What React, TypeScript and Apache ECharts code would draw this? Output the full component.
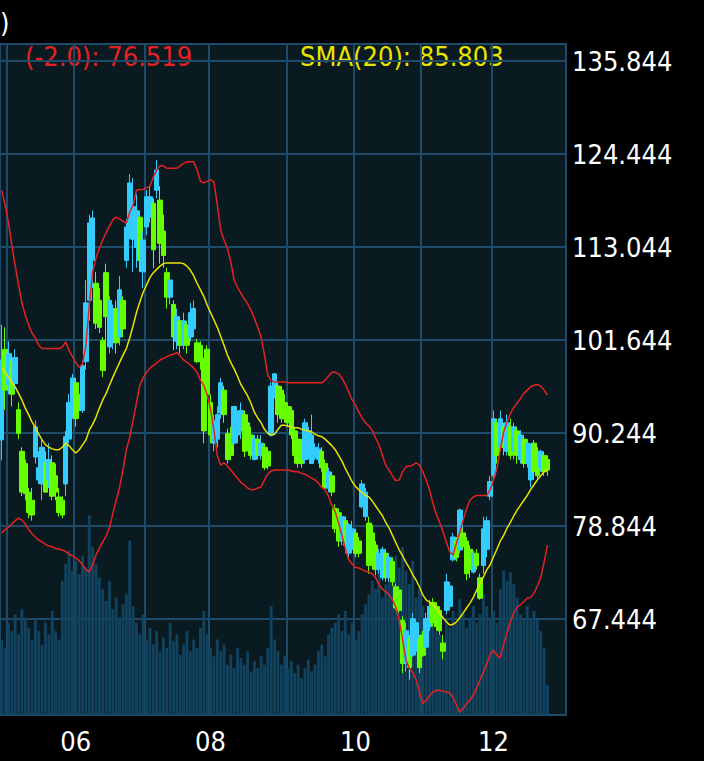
import { useEffect, useRef } from 'react';
import * as echarts from 'echarts';

const FONT = '"DejaVu Sans Condensed", "Liberation Sans Narrow", sans-serif';

// trading days per month (the chart starts two sessions before May)
const MONTHS = ['04', '05', '06', '07', '08', '09', '10', '11', '12'];
const TRADING_DAYS = [2, 20, 21, 19, 23, 20, 20, 21, 22];

const Y_TICKS = [67.444, 78.844, 90.244, 101.644, 113.044, 124.444, 135.844];

// [open, close, low, high]
const CANDLES = [
  [89.4, 99.2, 86.9, 103.5], [100.5, 95.5, 93.1, 103.2], [96.2, 100.0, 95.0, 101.5], [99.0, 95.0, 93.5, 100.0],
  [96.3, 99.5, 95.5, 100.5], [93.1, 90.2, 89.5, 94.0], [88.0, 83.0, 82.5, 88.5], [86.5, 82.8, 82.0, 87.0],
  [83.0, 80.5, 79.8, 83.5], [82.0, 80.2, 79.5, 83.5], [87.3, 91.0, 86.5, 91.8], [84.5, 86.0, 84.0, 88.0],
  [84.0, 88.5, 82.0, 89.4], [86.6, 83.0, 82.9, 88.0], [84.5, 87.0, 83.5, 89.0], [86.6, 82.5, 82.0, 87.5],
  [85.0, 83.0, 82.0, 86.5], [82.4, 80.5, 80.0, 83.5], [82.0, 80.2, 79.8, 82.5], [84.0, 89.8, 82.5, 90.5],
  [89.5, 94.0, 89.0, 95.0], [93.0, 97.0, 92.0, 97.5], [96.4, 92.0, 91.0, 97.0], [95.0, 93.0, 92.5, 96.0],
  [93.0, 98.5, 92.7, 99.2], [99.0, 106.2, 98.0, 109.0], [106.5, 116.0, 104.0, 117.0], [111.4, 116.6, 108.0, 117.5],
  [108.6, 103.7, 103.0, 110.0], [106.5, 103.2, 102.5, 108.0], [101.6, 97.9, 97.1, 102.0], [109.9, 104.5, 101.0, 111.0],
  [100.8, 106.5, 100.0, 107.0], [101.6, 105.3, 100.5, 106.0], [105.5, 101.3, 100.0, 106.5], [102.0, 107.8, 101.0, 109.5],
  [106.5, 103.0, 102.0, 107.0], [111.4, 115.5, 110.5, 116.5], [115.1, 120.9, 114.0, 122.0], [114.0, 118.0, 110.0, 121.5],
  [113.0, 117.5, 110.5, 119.5], [116.7, 111.4, 110.0, 117.5], [110.0, 113.9, 108.0, 115.0], [115.5, 119.2, 114.5, 120.0],
  [116.7, 119.2, 116.0, 120.5], [118.4, 112.7, 110.5, 119.0], [120.0, 122.5, 119.0, 123.7], [118.8, 113.5, 111.0, 120.5],
  [115.0, 112.0, 110.5, 117.0], [109.9, 106.9, 105.5, 110.5], [106.9, 109.0, 106.0, 110.0], [106.0, 102.0, 100.4, 106.5],
  [101.5, 104.5, 100.5, 105.5], [104.0, 101.0, 100.0, 104.5], [101.0, 104.0, 100.5, 105.0], [103.5, 101.0, 100.0, 104.0],
  [102.0, 105.0, 101.5, 106.2], [103.0, 105.5, 102.0, 106.5], [101.3, 99.0, 98.8, 101.8], [101.0, 99.0, 98.0, 101.5],
  [99.2, 90.5, 89.0, 99.5], [100.5, 95.0, 94.3, 101.0], [94.0, 90.0, 89.0, 95.0], [89.0, 91.8, 88.0, 92.5],
  [89.5, 92.5, 88.5, 93.5], [92.7, 96.4, 92.0, 97.0], [95.5, 92.5, 91.5, 96.0], [90.2, 87.0, 86.5, 90.8],
  [90.0, 87.5, 86.9, 91.0], [89.0, 93.5, 88.5, 93.5], [90.0, 92.5, 89.0, 93.0], [90.5, 93.0, 89.5, 94.0],
  [92.5, 88.0, 87.3, 93.0], [91.5, 89.0, 88.0, 92.5], [90.0, 87.5, 87.0, 91.0], [87.0, 89.5, 86.9, 90.0],
  [89.5, 87.5, 87.0, 90.0], [87.5, 89.0, 87.0, 90.0], [88.5, 86.0, 85.7, 89.0], [88.0, 86.2, 85.8, 88.5],
  [90.0, 96.0, 89.8, 96.5], [95.0, 97.5, 94.5, 97.6], [96.0, 92.5, 91.5, 96.4], [95.5, 92.0, 91.5, 96.0],
  [94.0, 92.0, 91.5, 95.0], [93.5, 91.5, 91.0, 94.0], [93.0, 90.0, 89.5, 93.5], [90.5, 87.5, 86.5, 91.0],
  [89.5, 86.5, 86.0, 90.0], [88.5, 86.5, 86.0, 89.5], [87.0, 91.5, 86.5, 92.0], [88.0, 90.5, 87.0, 91.0],
  [86.5, 90.0, 86.5, 92.5], [87.2, 88.5, 86.9, 89.0], [87.0, 88.3, 86.5, 89.0], [88.0, 86.0, 85.5, 88.5],
  [86.5, 83.5, 83.3, 87.0], [83.5, 85.5, 83.0, 86.0], [85.0, 83.0, 82.5, 85.5], [81.0, 78.5, 78.0, 81.5],
  [80.5, 77.0, 76.3, 81.0], [77.0, 80.0, 76.5, 80.5], [79.5, 76.5, 75.5, 80.0], [75.5, 79.0, 75.0, 79.2],
  [76.0, 78.5, 75.5, 79.5], [78.0, 75.5, 75.0, 78.5], [77.0, 75.5, 75.0, 77.5], [81.2, 84.0, 81.0, 84.5],
  [80.0, 83.0, 79.5, 83.5], [79.2, 74.0, 73.0, 80.0], [78.0, 74.5, 73.5, 79.0], [76.5, 73.5, 72.8, 77.0],
  [73.5, 75.5, 73.0, 76.0], [72.5, 76.0, 72.2, 76.3], [75.5, 72.5, 72.0, 76.0], [72.5, 75.0, 72.0, 75.5],
  [74.5, 72.0, 71.5, 75.0], [71.4, 68.8, 68.5, 71.8], [71.0, 68.5, 68.2, 71.0], [67.3, 62.0, 60.8, 67.8],
  [62.0, 66.0, 61.0, 67.0], [65.0, 61.5, 60.0, 65.5], [63.0, 67.5, 62.8, 68.2], [63.5, 67.0, 63.0, 67.5],
  [65.0, 61.5, 60.8, 65.5], [65.5, 63.0, 62.8, 66.0], [64.0, 67.5, 63.3, 68.2], [66.5, 69.0, 66.0, 69.8],
  [69.5, 67.0, 66.5, 70.0], [69.0, 66.5, 66.0, 69.5], [68.5, 66.0, 65.5, 69.0], [64.5, 63.5, 62.5, 65.5],
  [68.5, 72.0, 68.0, 73.0], [69.0, 71.5, 68.5, 72.0], [74.7, 77.5, 74.5, 78.0], [77.0, 75.0, 74.5, 77.5],
  [75.9, 80.8, 75.5, 81.0], [78.0, 76.3, 76.0, 78.5], [77.0, 73.0, 72.2, 77.5], [76.0, 73.5, 72.5, 76.5],
  [73.2, 75.5, 73.0, 75.8], [75.5, 74.0, 73.5, 76.0], [72.5, 70.0, 69.8, 73.0], [74.0, 78.5, 73.0, 80.0],
  [76.0, 79.5, 75.0, 80.0], [82.5, 84.3, 82.0, 85.0], [85.0, 92.0, 84.5, 93.0], [91.5, 87.5, 86.5, 92.0],
  [88.5, 92.0, 88.0, 93.0], [91.0, 88.5, 87.5, 91.5], [88.0, 91.5, 87.5, 92.5], [91.0, 87.5, 87.0, 92.0],
  [88.0, 91.0, 87.0, 91.5], [90.5, 87.5, 86.5, 91.0], [87.0, 90.0, 86.5, 90.6], [89.5, 86.5, 86.0, 90.0],
  [86.5, 89.0, 86.0, 89.5], [84.5, 88.0, 83.6, 89.0], [89.0, 85.5, 84.5, 89.4], [88.0, 85.0, 84.5, 88.5],
  [86.0, 88.0, 85.5, 88.2], [87.5, 85.5, 85.0, 88.0], [87.0, 85.7, 85.0, 87.5],
];

const UPPER = [
  120.0, 118.2, 116.1, 113.3, 110.8, 108.4, 106.2, 104.7, 103.5, 102.5,
  101.9, 101.0, 100.6, 100.6, 100.6, 100.6, 100.6, 100.6, 100.8, 101.4,
  100.4, 99.6, 98.9, 98.3, 98.7, 101.0, 105.9, 110.0, 111.7, 112.9,
  113.9, 114.8, 115.6, 116.4, 116.7, 116.5, 116.2, 116.0, 117.3, 118.2,
  120.0, 120.1, 120.1, 120.3, 120.5, 121.6, 122.5, 123.0, 123.0, 122.7,
  122.7, 122.7, 122.7, 123.0, 123.3, 123.5, 123.5, 123.5, 122.5, 121.1,
  120.9, 121.1, 121.3, 121.0, 118.2, 115.1, 113.9, 112.9, 111.2, 109.0,
  108.1, 107.4, 106.7, 106.1, 105.3, 104.3, 103.2, 102.0, 99.8, 97.3,
  96.7, 96.5, 96.5, 96.5, 96.5, 96.4, 96.4, 96.4, 96.4, 96.4,
  96.4, 96.4, 96.4, 96.4, 96.4, 96.4, 96.7, 97.2, 97.7, 97.7,
  97.5, 97.0, 96.2, 95.3, 94.3, 93.7, 92.8, 92.1, 91.5, 91.1,
  90.6, 89.6, 88.8, 87.5, 86.3, 85.7, 85.0, 84.4, 84.5, 85.5,
  86.1, 86.2, 86.3, 86.6, 86.3, 85.5, 84.5, 83.3, 81.6, 80.3,
  79.3, 78.1, 76.9, 75.7, 75.3, 76.8, 78.1, 79.6, 81.0, 82.0,
  82.4, 82.6, 82.6, 82.6, 82.6, 83.3, 84.5, 85.9, 88.2, 90.4,
  91.6, 92.6, 93.4, 93.9, 94.5, 95.1, 95.5, 95.9, 96.1, 96.2,
  96.0, 95.5, 94.9,
];

const LOWER = [
  78.0, 78.4, 78.7, 79.1, 79.5, 79.8, 79.6, 79.1, 78.4, 77.9,
  77.5, 77.1, 76.9, 76.6, 76.4, 76.3, 76.1, 76.0, 75.9, 75.7,
  75.4, 75.2, 74.9, 74.6, 74.1, 73.5, 73.2, 74.1, 75.3, 76.1,
  76.9, 77.6, 78.7, 80.4, 82.0, 83.6, 85.7, 88.2, 89.7, 91.8,
  93.9, 96.1, 97.0, 97.7, 98.2, 98.5, 98.8, 99.2, 99.4, 99.6,
  99.8, 99.9, 100.1, 99.7, 99.2, 98.9, 98.6, 98.2, 97.7, 96.7,
  96.1, 94.9, 93.1, 90.6, 87.5, 86.3, 86.6, 86.2, 85.7, 85.2,
  84.7, 84.2, 83.9, 83.5, 83.3, 83.3, 83.5, 83.6, 84.5, 85.2,
  85.6, 85.7, 85.7, 85.7, 85.7, 85.7, 85.6, 85.5, 85.5, 85.3,
  85.2, 85.0, 84.7, 84.5, 84.1, 83.6, 83.3, 82.5, 81.4, 80.6,
  79.2, 77.7, 76.1, 74.7, 74.2, 73.8, 73.7, 73.5, 73.3, 73.2,
  73.0, 72.5, 71.7, 71.1, 70.8, 70.4, 69.8, 68.9, 67.3, 64.9,
  62.4, 61.4, 60.9, 60.0, 58.5, 57.1, 57.5, 58.0, 58.5, 58.7,
  58.7, 58.6, 58.5, 58.4, 57.8, 56.9, 56.0, 56.5, 57.1, 57.5,
  58.1, 59.0, 60.0, 60.9, 62.0, 63.1, 63.6, 63.0, 62.7, 64.3,
  65.8, 67.1, 68.2, 68.9, 69.2, 69.6, 70.0, 70.1, 70.6, 71.5,
  72.5, 74.4, 76.5,
];

const SMA = [
  98.3, 97.7, 97.1, 96.5, 95.9, 95.1, 94.3, 93.3, 92.5, 91.6,
  90.9, 90.1, 89.4, 88.8, 88.5, 88.3, 88.2, 88.2, 88.5, 89.0,
  88.7, 88.2, 87.8, 88.2, 88.8, 89.4, 90.6, 91.3, 92.2, 93.3,
  94.3, 95.1, 96.1, 97.1, 98.0, 98.9, 99.8, 100.6, 101.9, 103.4,
  105.0, 106.3, 107.5, 108.4, 109.3, 109.9, 110.3, 110.7, 111.0, 111.1,
  111.1, 111.1, 111.1, 111.1, 111.0, 110.7, 110.2, 109.5, 108.6, 107.8,
  107.0, 105.9, 105.0, 104.1, 103.2, 102.1, 101.0, 99.8, 98.9, 98.1,
  97.2, 96.2, 95.5, 94.8, 93.9, 92.8, 92.1, 91.5, 90.7, 90.2,
  90.0, 90.1, 90.7, 91.2, 91.2, 91.1, 91.0, 90.9, 90.9, 90.7,
  90.6, 90.5, 90.4, 90.1, 89.9, 89.8, 89.5, 89.1, 88.7, 88.2,
  87.5, 86.8, 85.9, 85.1, 84.3, 83.7, 83.3, 82.9, 82.6, 82.4,
  81.9, 81.3, 80.7, 80.1, 79.3, 78.6, 77.7, 76.8, 75.9, 75.2,
  74.4, 73.7, 72.9, 72.2, 71.4, 70.4, 69.8, 69.5, 69.2, 68.8,
  68.2, 67.6, 67.1, 66.7, 66.8, 67.1, 67.6, 68.2, 68.8, 69.4,
  70.1, 71.0, 71.8, 72.6, 73.5, 74.1, 75.1, 76.0, 77.0, 77.7,
  78.6, 79.3, 80.1, 80.8, 81.4, 82.0, 82.6, 83.3, 83.9, 84.5,
  85.0, 85.5, 85.8,
];

const VOLUME = [
  45, 40, 55, 50, 60, 48, 63, 58, 52, 45, 57, 50, 42,
  55, 48, 62, 50, 45,
  80, 90, 98, 86, 92, 84, 95, 88, 119, 100, 90, 82,
  75, 68, 80, 63, 70, 58, 66, 72, 104, 65,
  55, 48, 60, 45, 52, 42, 50, 38, 46, 40, 55, 44, 48, 36, 42, 50, 38, 45, 40, 52, 62,
  48, 40, 35, 45, 38, 42, 30, 36, 28, 40, 34, 30, 38, 26, 32, 28, 35, 30, 40,
  65, 45, 38, 30, 35, 28, 32, 25, 30, 22, 28, 33, 26, 30, 38, 42, 35, 48, 52,
  55, 60, 50, 62, 48, 55, 45, 50,
  60, 66, 72, 80, 75, 85, 70, 78, 90, 82, 95, 88, 100, 86, 78, 92, 70, 75, 65, 58, 62, 55, 50, 48, 45, 58, 52,
  62, 55, 69, 60, 52, 58, 65, 55, 60, 72, 65, 58, 62, 55, 75, 86, 80,
  85, 78, 70, 60, 57, 65, 58, 62, 57, 50, 40, 18,
];

const BB_LABEL = '(-2.0): 76.519';
const SMA_LABEL = 'SMA(20): 85.803';

const GRID_LINE = '#1d4b69';
const RED = '#e52222';
const YELLOW = '#e8e400';

export default function App() {
  const chartRef = useRef<HTMLDivElement>(null);

  useEffect(() => {
    if (!chartRef.current) return;

    // 类目：每个交易日一个，记录每月首日
    const categories: string[] = [];
    const monthStart = new Set<number>();
    const labelIdx = new Set<number>();
    MONTHS.forEach((m, k) => {
      for (let d = 0; d < TRADING_DAYS[k]; d++) {
        if (d === 0 && k > 0) {
          monthStart.add(categories.length);
          if (Number(m) % 2 === 0) labelIdx.add(categories.length);
        }
        categories.push(`${m}-${String(d + 1).padStart(2, '0')}`);
      }
    });

    const chart = echarts.init(chartRef.current, undefined, { renderer: 'svg' });

    const option = {
      animation: false,
      backgroundColor: '#000',
      grid: {
        left: -2, right: 138, top: 44, bottom: 46,
        show: true, backgroundColor: '#0a1a21', borderColor: GRID_LINE, borderWidth: 2,
      },
      xAxis: {
        type: 'category' as const,
        data: categories,
        boundaryGap: true,
        axisLine: { show: false },
        axisTick: { show: false },
        axisLabel: {
          interval: (i: number) => labelIdx.has(i),
          formatter: (v: string) => v.slice(0, 2),
          color: '#fff', fontFamily: FONT, fontSize: 27, margin: 13,
        },
        splitLine: {
          show: true,
          interval: (i: number) => monthStart.has(i),
          lineStyle: { color: GRID_LINE, width: 2 },
        },
      },
      yAxis: [
        {
          type: 'value' as const,
          position: 'right' as const,
          min: 55.68, max: 137.93,
          axisLine: { show: false },
          axisTick: { show: false, customValues: Y_TICKS },
          axisLabel: {
            customValues: Y_TICKS,
            formatter: (v: number) => v.toFixed(3),
            color: '#fff', fontFamily: FONT, fontSize: 27, margin: 6,
          },
          splitLine: { show: true, lineStyle: { color: GRID_LINE, width: 2 } },
        },
        { type: 'value' as const, min: 0, max: 400, show: false, splitLine: { show: false } },
      ],
      series: [
        {
          type: 'bar', yAxisIndex: 1, data: VOLUME, barWidth: '85%', z: 1, silent: true,
          itemStyle: { color: '#11435f' },
        },
        {
          type: 'candlestick', data: CANDLES, barWidth: 5, z: 2,
          itemStyle: {
            color: '#33ccff', color0: '#66ff00',
            borderColor: '#33ccff', borderColor0: '#66ff00', borderWidth: 1,
          },
        },
        { type: 'line', data: UPPER, symbol: 'none', z: 3, lineStyle: { color: RED, width: 1.5 } },
        { type: 'line', data: LOWER, symbol: 'none', z: 3, lineStyle: { color: RED, width: 1.5 } },
        { type: 'line', data: SMA, symbol: 'none', z: 3, lineStyle: { color: YELLOW, width: 1.5 } },
      ],
      graphic: [
        {
          type: 'text', x: 0, y: 22,
          style: { text: ')', fill: '#fff', fontSize: 27, fontFamily: FONT, textAlign: 'left', textVerticalAlign: 'middle' },
        },
        {
          type: 'text', x: 25, y: 56,
          style: { text: BB_LABEL, fill: RED, fontSize: 27, fontFamily: FONT, textVerticalAlign: 'middle' },
        },
        {
          type: 'text', x: 300, y: 56,
          style: { text: SMA_LABEL, fill: YELLOW, fontSize: 27, fontFamily: FONT, textVerticalAlign: 'middle' },
        },
      ],
    };

    chart.setOption(option as echarts.EChartsOption);
    return () => chart.dispose();
  }, []);

  return (
    <div
      ref={chartRef}
      style={{ position: 'fixed', left: 0, top: 0, width: 704, height: 761, background: '#000' }}
    />
  );
}
